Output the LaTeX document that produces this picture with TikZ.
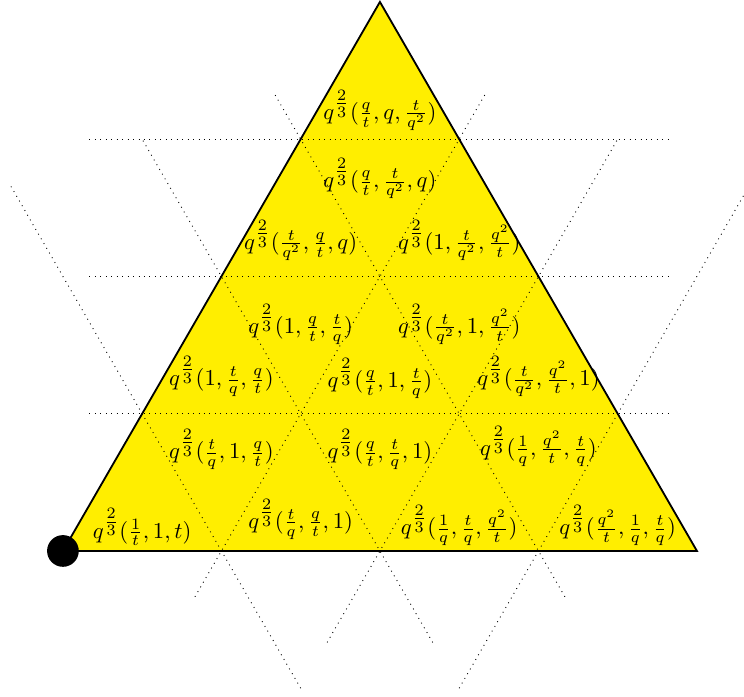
\documentclass[tikz,border=0pt]{standalone}
\usepackage{amsmath,amssymb}
\usepackage{xcolor}
\usepackage{tikz}
\definecolor{cellyellow}{RGB}{255,238,0}

\begin{document}
\begin{tikzpicture}[
  x=2.45cm, y=2.45cm,
  tri/.style={draw, thick, fill=cellyellow},
  lattice/.style={dotted, thin},
  wt/.style={inner sep=0.5pt},
  vdot/.style={circle, fill=black, inner sep=0pt, minimum size=0.49cm},
]
\useasboundingbox (-0.397,-0.921) rectangle (4.297,3.476);

\coordinate (A) at (0,0);
\coordinate (B) at (4,0);
\coordinate (C) at (2,3.464);

\draw[tri] (A) -- (B) -- (C) -- cycle;

% dotted lattice lines
\draw[lattice] (0.167,0.866) -- (3.833,0.866);
\draw[lattice] (0.167,1.732) -- (3.833,1.732);
\draw[lattice] (0.167,2.598) -- (3.833,2.598);
\draw[lattice] (0.833,-0.289) -- (2.667,2.887);
\draw[lattice] (1.667,-0.577) -- (3.5,2.598);
\draw[lattice] (2.5,-0.866) -- (4.333,2.309);
\draw[lattice] (3.167,-0.289) -- (1.333,2.887);
\draw[lattice] (2.333,-0.577) -- (0.5,2.598);
\draw[lattice] (1.5,-0.866) -- (-0.333,2.309);

\node[vdot] (origin) at (A) {};

% weights
\node[wt] (w1) at (2,2.78) {$q^{\tfrac{2}{3}}(\frac{q}{t},q,\frac{t}{q^2})$};
\node[wt] (w2) at (2,2.35) {$q^{\tfrac{2}{3}}(\frac{q}{t},\frac{t}{q^2},q)$};
\node[wt] (w3) at (1.5,1.96) {$q^{\tfrac{2}{3}}(\frac{t}{q^2},\frac{q}{t},q)$};
\node[wt] (w4) at (2.5,1.96) {$q^{\tfrac{2}{3}}(1,\frac{t}{q^2},\frac{q^2}{t})$};
\node[wt] (w5) at (1.5,1.43) {$q^{\tfrac{2}{3}}(1,\frac{q}{t},\frac{t}{q})$};
\node[wt] (w6) at (2.5,1.43) {$q^{\tfrac{2}{3}}(\frac{t}{q^2},1,\frac{q^2}{t})$};
\node[wt] (w7) at (1,1.10) {$q^{\tfrac{2}{3}}(1,\frac{t}{q},\frac{q}{t})$};
\node[wt] (w8) at (2,1.09) {$q^{\tfrac{2}{3}}(\frac{q}{t},1,\frac{t}{q})$};
\node[wt] (w9) at (3,1.10) {$q^{\tfrac{2}{3}}(\frac{t}{q^2},\frac{q^2}{t},1)$};
\node[wt] (w10) at (1,0.64) {$q^{\tfrac{2}{3}}(\frac{t}{q},1,\frac{q}{t})$};
\node[wt] (w11) at (2,0.64) {$q^{\tfrac{2}{3}}(\frac{q}{t},\frac{t}{q},1)$};
\node[wt] (w12) at (3,0.66) {$q^{\tfrac{2}{3}}(\frac{1}{q},\frac{q^2}{t},\frac{t}{q})$};
\node[wt] (w13) at (0.5,0.15) {$q^{\tfrac{2}{3}}(\frac{1}{t},1,t)$};
\node[wt] (w14) at (1.5,0.20) {$q^{\tfrac{2}{3}}(\frac{t}{q},\frac{q}{t},1)$};
\node[wt] (w15) at (2.5,0.16) {$q^{\tfrac{2}{3}}(\frac{1}{q},\frac{t}{q},\frac{q^2}{t})$};
\node[wt] (w16) at (3.5,0.16) {$q^{\tfrac{2}{3}}(\frac{q^2}{t},\frac{1}{q},\frac{t}{q})$};
\end{tikzpicture}
\end{document}
